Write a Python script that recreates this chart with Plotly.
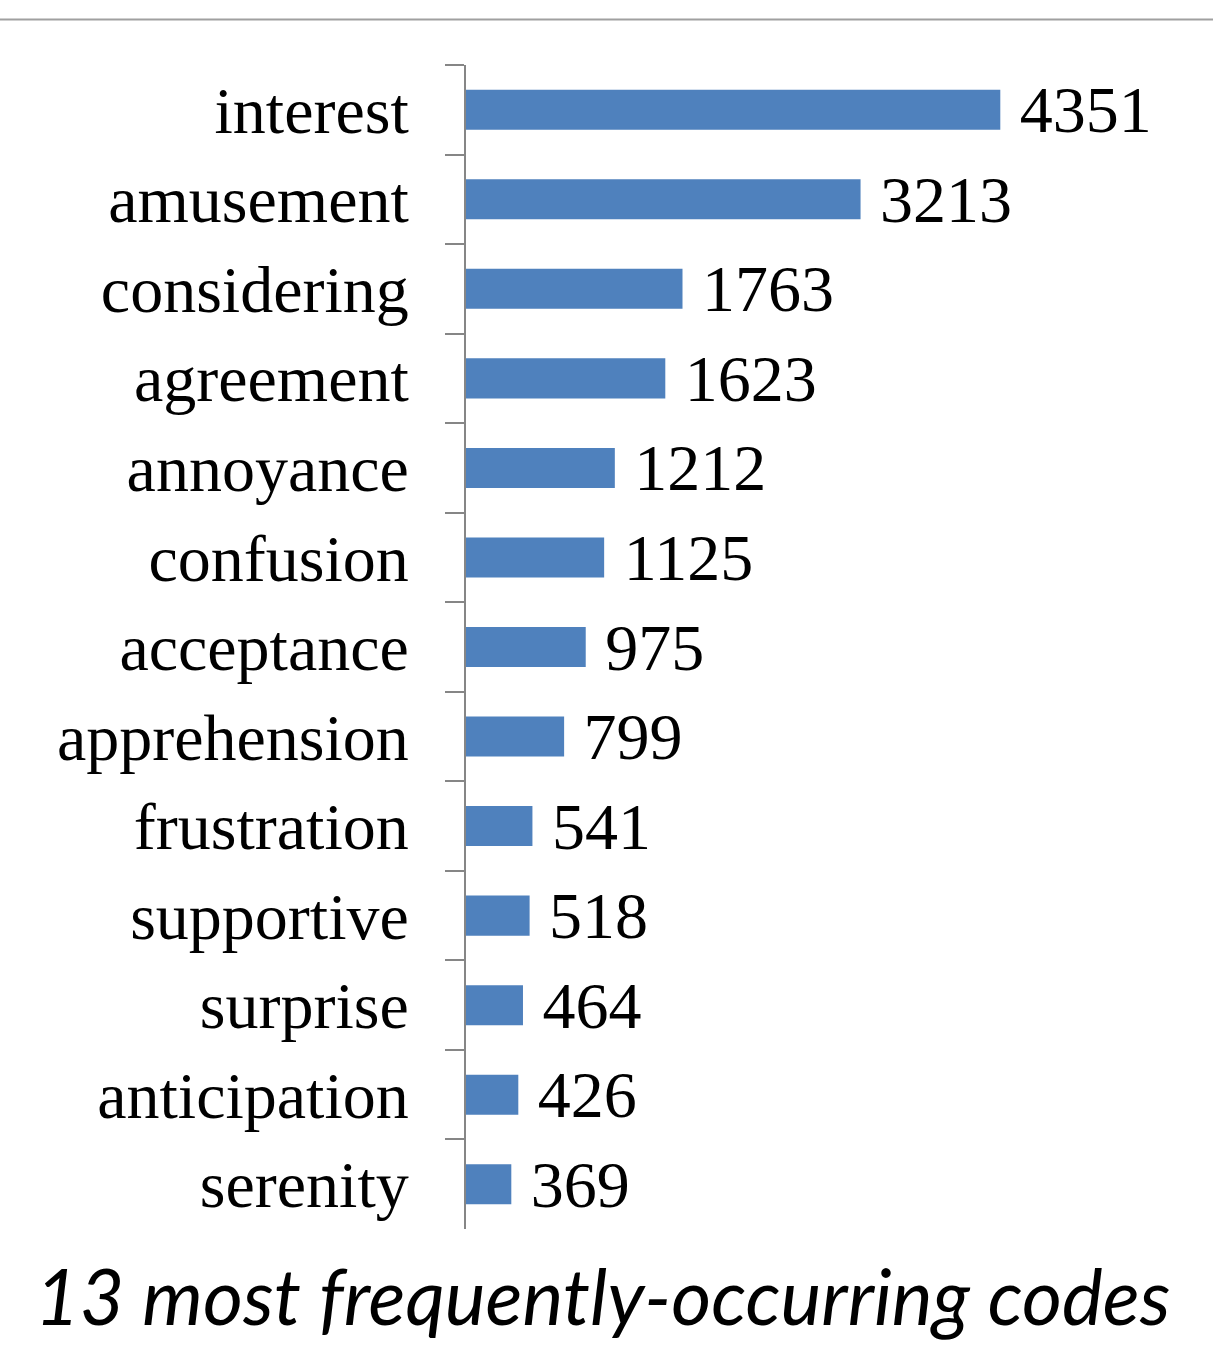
import plotly.graph_objects as go

categories = ["interest", "amusement", "considering", "agreement", "annoyance",
              "confusion", "acceptance", "apprehension", "frustration",
              "supportive", "surprise", "anticipation", "serenity"]
counts = [4351, 3213, 1763, 1623, 1212, 1125, 975, 799, 541, 518, 464, 426, 369]
title_text = "13 most frequently-occurring codes"

W, H = 1213, 1345
L, R, T, B = 466, 133, 65, 116
XMAX = 5000

serif = "Liberation Serif, Times New Roman, serif"

fig = go.Figure(go.Bar(
    x=counts, y=categories, orientation="h",
    marker=dict(color="#4F81BD", line=dict(width=0)),
    text=["\u00a0" + str(v) for v in counts],
    textposition="outside", cliponaxis=False, constraintext="none",
    textfont=dict(family=serif, size=66, color="black"),
    hoverinfo="skip",
))

plot_h = H - T - B
top_line_y = 1 + (T - 19.5) / plot_h

fig.update_layout(
    width=W, height=H,
    margin=dict(l=L, r=R, t=T, b=B, pad=0),
    paper_bgcolor="white", plot_bgcolor="white",
    bargap=0.553,
    showlegend=False,
    uniformtext=dict(mode=False),
    xaxis=dict(range=[0, XMAX], showgrid=False, zeroline=False,
               showticklabels=False, showline=False, ticks=""),
    yaxis=dict(categoryorder="array", categoryarray=categories,
               autorange="reversed", showgrid=False, zeroline=False,
               showline=True, linecolor="#868686", linewidth=2,
               ticks="outside", tickson="boundaries", ticklen=19,
               tickwidth=2, tickcolor="#868686", ticklabelstandoff=42,
               tickfont=dict(family=serif, size=66, color="black")),
    shapes=[dict(type="line", xref="paper", yref="paper",
                 x0=-L / (W - L - R), x1=(W - L) / (W - L - R),
                 y0=top_line_y, y1=top_line_y,
                 line=dict(color="#A0A0A0", width=2))],
    annotations=[dict(text=title_text, xref="paper", yref="paper",
                      x=(602.5 - L) / (W - L - R), xanchor="center",
                      y=-(1343 - (H - B)) / plot_h, yanchor="bottom",
                      showarrow=False,
                      font=dict(family="Lato, sans-serif", size=77,
                                color="black", style="italic"))],
)

fig.write_html("out.html")
